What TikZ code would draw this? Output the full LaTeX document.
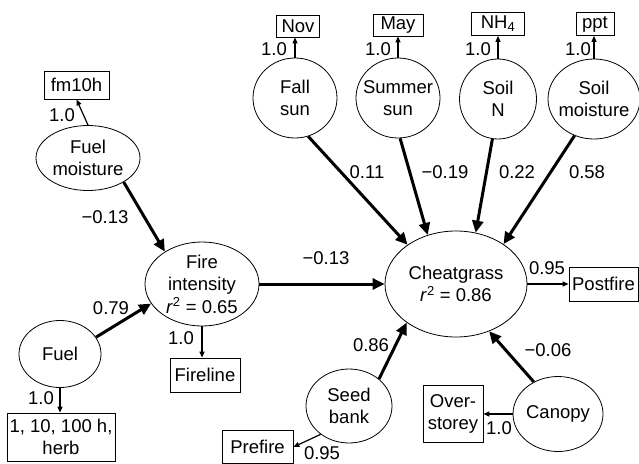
\documentclass[tikz,border=0pt]{standalone}
\usepackage{fontspec}
\setmainfont{Liberation Sans}
\usetikzlibrary{arrows.meta,shapes.geometric}

\tikzset{
    lat/.style={draw, ellipse, line width=0.8pt, inner sep=0pt},
    obs/.style={draw, rectangle, line width=0.8pt, inner sep=0pt, align=center},
    txt/.style={inner sep=0.75pt, align=center},
    paththick/.style={line width=3pt, -{Triangle[length=12pt,width=11pt]}},
    paththin/.style={line width=1.2pt, -{Triangle[length=6pt,width=5pt]}},
}

\begin{document}
\begin{tikzpicture}[x=1pt,y=1pt,yscale=-1,every node/.append style={font=\fontsize{18.5}{22.5}\selectfont}]
        \useasboundingbox (0,0) rectangle (639,463);

        %Shape: Ellipse
        \node[lat, minimum width=104, minimum height=65] (fuelmoist) at (88,158) {};
        \node[lat, minimum width=114, minimum height=84] (firint) at (202,284) {};
        \node[lat, minimum width=82, minimum height=67] (fuel) at (60,354) {};
        \node[lat, minimum width=84, minimum height=80] (fallsun) at (295,98) {};
        \node[lat, minimum width=84, minimum height=80] (summersun) at (398,98) {};
        \node[lat, minimum width=77, minimum height=80] (soiln) at (498,99) {};
        \node[lat, minimum width=92, minimum height=80] (soilmoist) at (594,99) {};
        \node[lat, minimum width=142, minimum height=106] (cheat) at (456,284) {};
        \node[lat, minimum width=86, minimum height=74] (seed) at (349,406) {};
        \node[lat, minimum width=90, minimum height=75] (canopy) at (558,414) {};

        %Shape: Rectangle
        \node[obs, minimum width=65, minimum height=28] (fm10h) at (76.5,85) {fm10h};
        \node[obs, minimum width=43, minimum height=22] (nov) at (298,26) {Nov};
        \node[obs, minimum width=50, minimum height=22] (may) at (398,25) {May};
        \node[obs, minimum width=53, minimum height=23] (nh4) at (498,24) {NH\textsubscript{4}};
        \node[obs, minimum width=38, minimum height=23] (ppt) at (595,24) {ppt};
        \node[obs, minimum width=70, minimum height=34] (fireline) at (205,375) {Fireline};
        \node[obs, minimum width=108, minimum height=48] (fuelbox) at (61,437) {1, 10, 100 h,\\herb};
        \node[obs, minimum width=71, minimum height=33] (prefire) at (257.5,447) {Prefire};
        \node[obs, minimum width=60, minimum height=57] (overst) at (453,414) {Over-\\storey};
        \node[obs, minimum width=69, minimum height=34] (postfire) at (603.5,284) {Postfire};

        % Text Node
        \node[txt] (fuelmoist-t) at (fuelmoist) {Fuel\\moisture};
        \node[txt] (firint-t) at (firint) {Fire\\intensity\\\textit{r}\textsuperscript{2} = 0.65};
        \node[txt] (fuel-t) at (fuel) {Fuel};
        \node[txt] (fallsun-t) at (fallsun) {Fall\\sun};
        \node[txt] (summersun-t) at (summersun) {Summer\\sun};
        \node[txt] (soiln-t) at (soiln) {Soil\\N};
        \node[txt] (soilmoist-t) at (soilmoist) {Soil\\moisture};
        \node[txt] (cheat-t) at (cheat) {Cheatgrass\\\textit{r}\textsuperscript{2} = 0.86};
        \node[txt] (seed-t) at (seed) {Seed\\bank};
        \node[txt] (canopy-t) at (canopy) {Canopy};

        %Straight Lines
        \draw[paththick] (fuelmoist.-34) -- (firint.139);
        \draw[paththick] (fuel.25) -- (firint.201);
        \draw[paththick] (firint) -- (cheat);
        \draw[paththick] (fallsun.-71) -- (cheat.141);
        \draw[paththick] (summersun.-87) -- (cheat.120);
        \draw[paththick] (soiln.-98) -- (cheat.69);
        \draw[paththick] (soilmoist.242) -- (cheat.40);
        \draw[paththick] (seed.42) -- (cheat.218);
        \draw[paththick] (canopy.127) -- (cheat.-55);

        %Straight Lines
        \draw[paththin] (fuelmoist.north) -- (fm10h.south);
        \draw[paththin] (fallsun.north) -- (fallsun.north |- nov.south);
        \draw[paththin] (summersun.north) -- (summersun.north |- may.south);
        \draw[paththin] (soiln.north) -- (soiln.north |- nh4.south);
        \draw[paththin] (soilmoist.north) -- (soilmoist.north |- ppt.south);
        \draw[paththin] (fuel.south) -- (fuel.south |- fuelbox.north);
        \draw[paththin] (firint.south) -- (firint.south |- fireline.north);
        \draw[paththin] (cheat.east) -- (postfire.west);
        \draw[paththin] (seed.225) -- (prefire.east);
        \draw[paththin] (canopy.west) -- (overst.east);

        % Text Node
        \node[txt] (l-fm10h) at (62,115) {1.0};
        \node[txt] (l-nov) at (274,49) {1.0};
        \node[txt] (l-may) at (378,49) {1.0};
        \node[txt] (l-nh4) at (478,49) {1.0};
        \node[txt] (l-ppt) at (578,49) {1.0};
        \node[txt] (l-fallsun) at (367,172) {0.11};
        \node[txt] (l-summersun) at (445,172) {−0.19};
        \node[txt] (l-soiln) at (517,172) {0.22};
        \node[txt] (l-soilmoist) at (587,172) {0.58};
        \node[txt] (l-fuelmoist) at (105,217) {−0.13};
        \node[txt] (l-fuel) at (111,308) {0.79};
        \node[txt] (l-fireline) at (181,338) {1.0};
        \node[txt] (l-fuelbox) at (41,398) {1.0};
        \node[txt] (l-firint) at (326,258) {−0.13};
        \node[txt] (l-postfire) at (547,268) {0.95};
        \node[txt] (l-seed) at (371,345) {0.86};
        \node[txt] (l-canopy) at (548,350) {−0.06};
        \node[txt] (l-overst) at (499,428) {1.0};
        \node[txt] (l-prefire) at (322,453.5) {0.95};

\end{tikzpicture}
\end{document}
